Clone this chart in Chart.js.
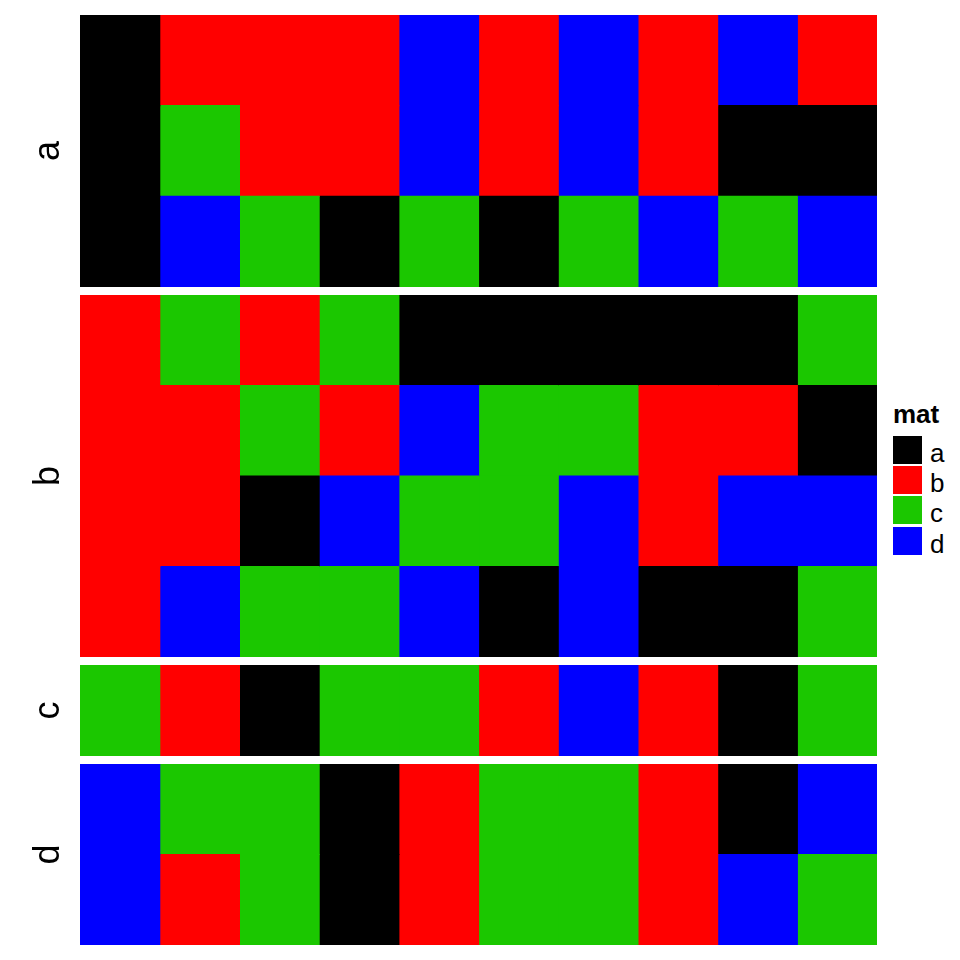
<!DOCTYPE html>
<html>
<head>
<meta charset="utf-8">
<script src="https://cdn.jsdelivr.net/npm/chart.js@4/dist/chart.umd.min.js"></script>
<style>
  body { margin: 0; background: #fff; }
  #wrap { position: relative; width: 960px; height: 960px; font-family: "Liberation Sans", Arial, sans-serif; }
  .slice { position: absolute; left: 0; width: 877px; }
  #legend { position: absolute; left: 893px; top: 399px; color: #000; }
  #legend .title { font-weight: bold; font-size: 26px; line-height: 30px; height: 37px; }
  #legend .item { display: flex; align-items: flex-start; height: 30.2px; }
  #legend .box { width: 29px; height: 28px; }
  #legend .lab { font-size: 26px; line-height: 28px; margin-left: 8px; position: relative; top: 3px; }
</style>
</head>
<body>
<div id="wrap"></div>
<script>
// levels of the matrix and their colours
var levels = ['a', 'b', 'c', 'd'];
var levelColors = ['#000000', '#FF0000', '#1BC700', '#0000FF'];

// row split groups
var slices = ['a', 'b', 'c', 'd'];

// matrix rows, grouped by slice (10 columns each)
var sliceA = [
    ['a','b','b','b','d','b','d','b','d','b'],
    ['a','c','b','b','d','b','d','b','a','a'],
    ['a','d','c','a','c','a','c','d','c','d']
];
var sliceB = [
    ['b','c','b','c','a','a','a','a','a','c'],
    ['b','b','c','b','d','c','c','b','b','a'],
    ['b','b','a','d','c','c','d','b','d','d'],
    ['b','d','c','c','d','a','d','a','a','c']
];
var sliceC = [
    ['c','b','a','c','c','b','d','b','a','c']
];
var sliceD = [
    ['d','c','c','a','b','c','c','b','a','d'],
    ['d','b','c','a','b','c','c','b','d','c']
];
var sliceRows = [sliceA, sliceB, sliceC, sliceD];

var nCols = 10;

function colorOf(v) {
    return levelColors[levels.indexOf(v)];
}

var wrap = document.getElementById('wrap');
var rowH = 90.6;
var gap = 8;
var y = 15;

sliceRows.forEach(function(rows, s) {
    var h = Math.round(rows.length * rowH);
    var div = document.createElement('div');
    div.className = 'slice';
    div.style.top = y + 'px';
    div.style.height = h + 'px';
    var cv = document.createElement('canvas');
    div.appendChild(cv);
    wrap.appendChild(div);
    y += h + gap;

    var rowLabels = rows.map(function(r, i) { return slices[s] + (i + 1); });
    var datasets = [];
    for (var j = 0; j < nCols; j++) {
        datasets.push({
            label: 'col' + (j + 1),
            data: rows.map(function() { return 1; }),
            backgroundColor: rows.map(function(r) { return colorOf(r[j]); }),
            borderWidth: 0,
            inflateAmount: 0.6,
            barPercentage: 1,
            categoryPercentage: 1
        });
    }

    new Chart(cv.getContext('2d'), {
        type: 'bar',
        data: { labels: rowLabels, datasets: datasets },
        options: {
            indexAxis: 'y',
            responsive: true,
            maintainAspectRatio: false,
            animation: false,
            layout: { padding: 0 },
            scales: {
                x: { stacked: true, min: 0, max: nCols, display: false },
                y: {
                    stacked: true,
                    grid: { display: false },
                    border: { display: false },
                    ticks: { display: false },
                    title: {
                        display: true,
                        text: slices[s],
                        color: '#000',
                        font: { family: '"Liberation Sans", Arial, sans-serif', size: 36 },
                        padding: { top: 27, bottom: 0 }
                    },
                    afterFit: function(scale) { scale.width = 80; }
                }
            },
            plugins: {
                legend: { display: false },
                tooltip: { enabled: false }
            }
        }
    });
});

// legend
var leg = document.createElement('div');
leg.id = 'legend';
var t = document.createElement('div');
t.className = 'title';
t.textContent = 'mat';
leg.appendChild(t);
levels.forEach(function(lv, i) {
    var it = document.createElement('div');
    it.className = 'item';
    var b = document.createElement('div');
    b.className = 'box';
    b.style.background = levelColors[i];
    var l = document.createElement('div');
    l.className = 'lab';
    l.textContent = lv;
    it.appendChild(b);
    it.appendChild(l);
    leg.appendChild(it);
});
wrap.appendChild(leg);
</script>
</body>
</html>
